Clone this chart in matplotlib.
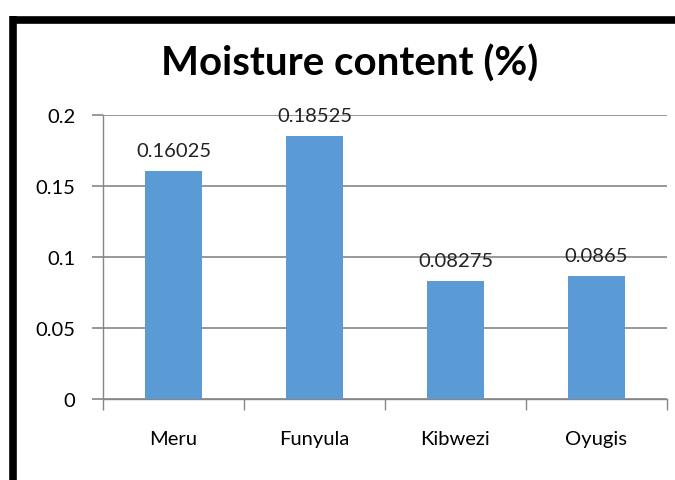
import numpy as np
import matplotlib
matplotlib.use('Agg')
import matplotlib.pyplot as plt
from matplotlib.lines import Line2D

# data
sites = ['Meru', 'Funyula', 'Kibwezi', 'Oyugis']
moisture = [0.16025, 0.18525, 0.08275, 0.0865]
value_labels = ['0.16025', '0.18525', '0.08275', '0.0865']
yticks = [0, 0.05, 0.1, 0.15, 0.2]
ytick_labels = ['0', '0.05', '0.1', '0.15', '0.2']

plt.rcParams['font.family'] = ['Lato', 'DejaVu Sans']
grid_col = '#868686'

fig = plt.figure(figsize=(6.75, 4.81), dpi=100)
ax = fig.add_axes([103/675, 1 - 400/481, 564/675, 284/481])

xs = np.arange(len(sites))
ax.bar(xs, moisture, width=0.4, color='#5B9BD5', zorder=3)
for x, v, lab in zip(xs, moisture, value_labels):
    ax.text(x, v + 0.0085, lab, ha='center', va='bottom', fontsize=14.5, color='#222222', zorder=4)

ax.set_xlim(-0.5, len(sites) - 0.5)
ax.set_ylim(0, 0.2)
ax.set_yticks(yticks)
ax.set_yticklabels(ytick_labels, fontsize=14.5)
ax.set_xticks(xs)
ax.set_xticklabels(sites, fontsize=14.5)
ax.tick_params(axis='x', length=0, pad=22)
ax.tick_params(axis='y', length=8, color=grid_col, width=1.2, pad=12)
# category separators on x axis
ax.set_xticks(np.arange(len(sites) + 1) - 0.5, minor=True)
ax.tick_params(axis='x', which='minor', length=8, color=grid_col, width=1)
ax.grid(axis='y', color=grid_col, linewidth=1.2, zorder=0)
for s in ['top', 'right']:
    ax.spines[s].set_visible(False)
for s in ['left', 'bottom']:
    ax.spines[s].set_color(grid_col)
    ax.spines[s].set_linewidth(1)

fig.text(350/675, 1 - 64/481, 'Moisture content (%)', ha='center', va='center',
         fontsize=29, fontweight='bold', color='black')

# thick black frame on left and top
fig.add_artist(Line2D([13/675, 13/675], [0, 1 - 17/481], color='black', lw=5.5, solid_capstyle='butt'))
fig.add_artist(Line2D([10/675, 1], [1 - 21/481, 1 - 21/481], color='black', lw=5.5, solid_capstyle='butt'))

fig.savefig('out.png', dpi=100)
